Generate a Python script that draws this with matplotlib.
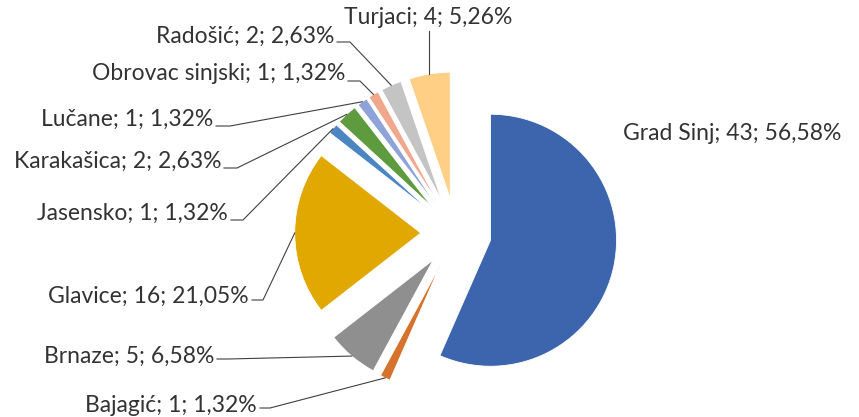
import numpy as np
import matplotlib.pyplot as plt

# data
places = ['Grad Sinj', 'Bajagić', 'Brnaze', 'Glavice', 'Jasensko', 'Karakašica',
          'Lučane', 'Obrovac sinjski', 'Radošić', 'Turjaci']
counts = [43, 1, 5, 16, 1, 2, 1, 1, 2, 4]
percents = ['56,58%', '1,32%', '6,58%', '21,05%', '1,32%', '2,63%',
            '1,32%', '1,32%', '2,63%', '5,26%']
colors = ['#3C65AD', '#D5722B', '#8F8F8F', '#E0A800', '#4C86C2', '#5E9A3E',
          '#8EA4D8', '#F0A78C', '#C4C4C4', '#FFCF85']

W, H = 859, 417
CX, CY, R = 456, 233, 126  # pie centre / radius in pixels


def px(x, y):
    # pixel position -> data units (radius = 1)
    return (x - CX) / R, (CY - y) / R


# label layout in pixels: (text anchor x, text y, elbow x, line y, ha)
layout = {
    'Grad Sinj': (623, 133, None, None, 'left'),
    'Bajagić': (257, 405, 270, 408, 'right'),
    'Brnaze': (214, 356, 228, 359, 'right'),
    'Glavice': (249, 296, 263, 300, 'right'),
    'Jasensko': (228, 213, 243, 220, 'right'),
    'Karakašica': (221, 161, 237, 168, 'right'),
    'Lučane': (213, 119, 230, 126, 'right'),
    'Obrovac sinjski': (345, 74, 360, 81, 'right'),
    'Radošić': (334, 36, 350, 42, 'right'),
    'Turjaci': (428, 18, None, 31, 'center'),
}

plt.rcParams['font.family'] = ['Lato', 'DejaVu Sans']

fig = plt.figure(figsize=(W / 100, H / 100), dpi=100)
ax = fig.add_axes([0, 0, 1, 1])

wedges, _ = ax.pie(counts, colors=colors, startangle=90, counterclock=False,
                   explode=[0.28] * len(counts), radius=1,
                   wedgeprops=dict(edgecolor='white', linewidth=0.6))

ax.set_xlim(-CX / R, (W - CX) / R)
ax.set_ylim(-(H - CY) / R, CY / R)
ax.set_aspect('auto')
ax.axis('off')

for w, name, n, p in zip(wedges, places, counts, percents):
    tx, ty, ex, ly, ha = layout[name]
    x, y = px(tx, ty)
    ax.text(x, y, f'{name}; {n}; {p}', ha=ha, va='center',
            fontsize=16.5, color='#333333')
    ang = np.deg2rad((w.theta1 + w.theta2) / 2)
    ax_, ay_ = w.center[0] + w.r * np.cos(ang), w.center[1] + w.r * np.sin(ang)
    if ly is None:
        continue
    if ex is None:
        # vertical leader straight down from the label
        _, y0 = px(0, ly)
        ax.plot([ax_, ax_], [y0, ay_], color='#404040', lw=0.8)
    else:
        x0, y0 = px(tx + 3, ly)
        x1, _ = px(ex, ly)
        ax.plot([x0, x1, ax_], [y0, y0, ay_], color='#404040', lw=0.8)

fig.savefig('out.png', dpi=100)
